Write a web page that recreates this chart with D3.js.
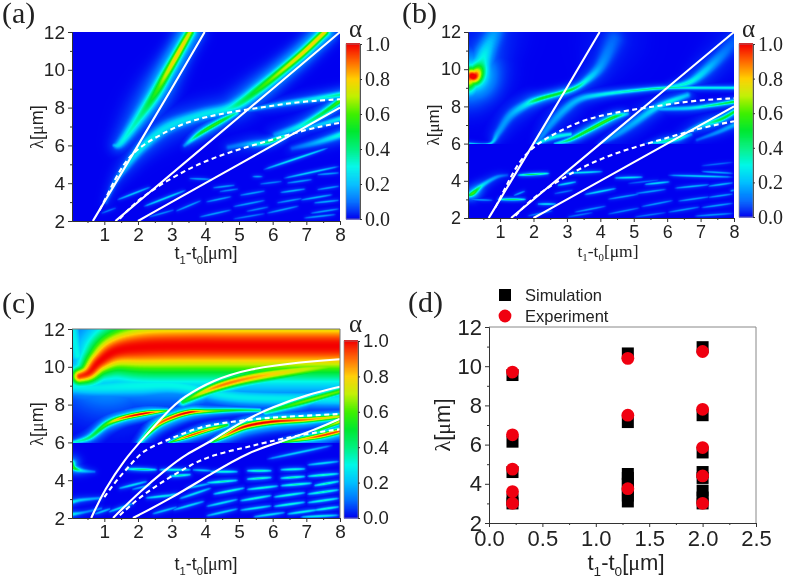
<!DOCTYPE html>
<html><head><meta charset="utf-8">
<script src="https://cdn.jsdelivr.net/npm/d3@7"></script>
<style>html,body{margin:0;padding:0;background:#fff}#wrap{position:relative;width:787px;height:585px;overflow:hidden;filter:blur(0.35px)}canvas,svg{position:absolute;left:0;top:0}</style>
</head><body><div id="wrap"></div>
<script>
// ---------- data ----------
const colorStops=[0,0.1,0.2,0.3,0.4,0.5,0.6,0.7,0.8,0.9,1];
const colorValues=["#0000f0","#0070ff","#00c0ff","#00f8e8","#00f080","#00e830","#40f000","#c0f000","#ffd000","#ff6800","#f40000"];
const xTicksHeat=[1,2,3,4,5,6,7,8];
const xMinorHeat=[0.5,1.5,2.5,3.5,4.5,5.5,6.5,7.5];
const yTicksHeat=[2,4,6,8,10,12];
const yMinorHeat=[3,5,7,9,11];
const barTicks=[0,0.2,0.4,0.6,0.8,1];
// white guides [t, lambda]
const line3a=[[0.66,2],[1,3],[2,6],[3,9],[3.98,12]];
const line15a=[[1.33,2],[2,3],[4,6],[6,9],[8,12]];
const line1a=[[2,2],[4,4],[6,6],[8,8]];
const dashUp=[[0.86,2.57],[1.16,3.63],[1.56,5.05],[2.05,5.93],[2.65,6.55],[3.34,7.17],[4.04,7.52],[4.83,7.79],[5.82,8.05],[6.81,8.32],[8,8.44]];
const dashLow=[[1.46,2.12],[2,3.15],[3,4.3],[4,5.2],[5,5.8],[6,6.3],[7,6.85],[8,7.2]];
const lineC1=[[0.61,2],[1,3.5],[1.65,5.2],[2.05,6],[2.85,7.6],[3.34,8.4],[4.23,9.3],[5.3,9.9],[6.8,10.25],[8,10.4]];
const lineC2=[[1.26,2],[2.05,3.4],[2.85,4.6],[3.44,5.4],[4.13,6],[5.02,7.05],[6.02,7.9],[7,8.5],[8,8.95]];
const lineC3=[[1.85,2],[3,3.05],[4.23,4.4],[5.3,5.5],[6.2,6],[7.3,6.7],[8,7.25]];
const dashC1=[[1,3.1],[1.36,4],[1.75,4.75],[2.15,5.6],[2.85,6.1],[3.83,6.85],[4.8,7.1],[5.8,7.3],[6.8,7.4],[8,7.5]];
const dashC2=[[1.46,2.15],[2.15,3.25],[2.85,4.05],[3.55,4.8],[4.23,5.35],[5.12,5.7],[5.8,6],[6.8,6.4],[8,6.7]];
// ridges: knots [t, lambda, alpha, linewidth]
const ridgesA=[
 [[1.3,6,.18,.07],[1.5,6.15,.28,.14],[2.05,7.5,.38,.2],[2.5,8.7,.55,.2],[2.85,9.8,.72,.17],[3.2,10.9,.8,.15],[3.55,12,.72,.15]],
 [[1.05,3,.08,.08],[1.3,4,.14,.1],[1.66,4.9,.2,.13],[2.15,5.95,.28,.16],[2.85,6.95,.26,.2],[3.84,7.6,.27,.18],[4.6,7.9,.3,.18],[5.03,8.25,.42,.18],[5.6,9,.55,.17],[6.2,9.85,.68,.15],[6.9,10.9,.78,.14],[7.55,12,.78,.14]],
 [[3.39,6,.12,.07],[3.84,6.63,.5,.09],[4.43,7.25,.55,.09],[4.93,7.72,.32,.08]],
 [[5.3,7.88,.14,.08],[6.3,8.2,.22,.09],[7.2,8.45,.27,.1],[8,8.68,.38,.1]],
 [[4.7,5.9,.1,.1],[5.2,6.05,.16,.11],[5.8,6.15,.4,.08],[6.2,6.4,.42,.08],[6.5,6.6,.15,.07]],
 [[6.1,6.55,.15,.12],[6.8,7,.3,.12],[7.4,7.6,.45,.11],[8,8.35,.6,.1]],
 [[6.6,6.75,.14,.08],[7.3,7.05,.2,.09],[8,7.4,.28,.09]],
 [[6.6,5.85,.08,.1],[7.3,6.15,.18,.11],[8,6.55,.32,.11]]
];
const streaksA=[[1.36,3.1,2.4,3.82,.2],[0.9,2.4,1.36,2.7,.1],[2.15,2.75,3.45,3.65,.24],[2.3,2.2,3.1,2.6,.12],[3.1,2.5,3.9,3.1,.15],[3.5,4.25,4.2,4.2,.15],[4.2,3.75,4.9,3.9,.15],[5,3.35,5.8,3.6,.15],[4,3,4.8,3.3,.15],[5.4,4.35,5.7,4.35,.15],[6.2,3.5,7,3.7,.18],[4.8,2.75,5.8,3.1,.15],[3.8,2.2,4.8,2.6,.15],[5.8,2.4,6.8,2.8,.15],[6.8,3.1,7.8,3.4,.18],[7.1,2.4,8,2.65,.15],[4.8,2.1,5.8,2.4,.11],[6.4,4,7.2,4.2,.15],[7.3,3.65,8,3.85,.15],[7.3,4.45,8,4.55,.15],[6.3,4.25,8,4.9,.22],[5.7,4.7,7.7,5.9,.26],[5.6,3.95,6.3,4.1,.12],[6.1,2.95,6.9,3.2,.14],[6.9,2.15,7.9,2.35,.15],[7.2,2.95,8,3.1,.17],[5.2,2.5,5.9,2.75,.12],[4.4,3.55,5,3.7,.12]];
const ridgesB=[
 [[0.05,9.1,.5,.28],[0.12,9.6,.98,.3],[0.25,9.65,1,.28],[0.42,10.2,.42,.3],[0.58,11,.26,.3],[0.85,12,.14,.32]],
 [[0.05,6,.22,.04],[0.7,6,.25,.04],[0.95,6.6,.16,.12],[1.3,7.5,.17,.16],[1.78,8.1,.28,.13],[2.18,8.4,.5,.09],[2.78,8.7,.5,.08],[3.2,8.95,.45,.08],[3.55,9.35,.3,.11],[4,10.15,.16,.2],[4.4,11.6,.09,.35]],
 [[2.1,6,.12,.07],[2.5,7,.15,.14],[2.95,7.85,.18,.15],[3.4,8.4,.2,.12],[4,8.63,.28,.08],[5,8.85,.35,.06],[6,9,.38,.05],[7,9,.3,.05],[8,9,.3,.05]],
 [[6,9,.28,.06],[6.6,9.25,.32,.1],[7,9.7,.25,.15],[7.6,10.7,.13,.22],[8,11.5,.08,.3]],
 [[2.1,6,.3,.05],[2.6,6.35,.3,.08],[3.1,6.5,.3,.06]],
 [[2.65,6,.2,.05],[3.08,6.2,.45,.07],[3.68,6.75,.55,.08],[4.38,7.4,.55,.08],[4.8,7.6,.2,.07]],
 [[4,6,.1,.06],[4.5,6.5,.15,.12],[5,7.1,.18,.14],[5.6,7.85,.25,.12],[6,8.2,.32,.1],[6.6,8.6,.2,.1]],
 [[5.3,7.85,.15,.07],[6.6,7.9,.25,.07],[7.3,8.05,.38,.06],[8,8.25,.5,.06]],
 [[5.4,5.98,.12,.05],[5.9,6.12,.35,.07],[6.3,6.25,.38,.07],[6.7,6.5,.15,.07]],
 [[6.3,6.4,.08,.08],[7,6.95,.22,.11],[7.6,7.3,.48,.08],[8,7.7,.52,.07]],
 [[6.9,6.2,.08,.06],[7.5,6.6,.14,.08],[8,7,.18,.09]]
];
const freeB=[[[0.05,3.2,.4,.07],[0.2,3.35,.6,.09],[0.5,3.8,.26,.08],[0.9,4.2,.14,.07],[1.2,4.3,.07,.06]]];
const streaksB=[[1.5,4.3,2.5,4.4,.45],[2.9,4.4,4.1,4.5,.26],[4.4,4.15,5.3,4.2,.26],[5.3,3.8,6.1,3.95,.24],[6,4.3,8,4.2,.22],[7,4.5,8,4.4,.16],[0.9,3,1.8,3,.42],[1.4,3.2,1.75,3.45,.15],[2.7,3.75,3.3,3.95,.24],[2.1,2.75,2.7,2.75,.25],[3.5,3.25,4.5,3.6,.24],[4.2,3,5.2,3.3,.15],[5,3.3,6,3.55,.15],[6.2,3.6,7.3,3.8,.18],[7.2,3.7,8,3.9,.18],[5.2,2.6,6.2,2.95,.14],[6.3,2.9,7.3,3.15,.15],[7.2,3.1,8,3.3,.15],[3.2,2.3,4.2,2.65,.14],[4.2,2.2,5.2,2.55,.12],[6,2.3,7,2.6,.14],[7,2.55,8,2.8,.15],[6.8,2.1,8,2.25,.14],[1.8,2.1,2.6,2.4,.12],[7,4.8,8,5,.09],[5,2.05,6,2.3,.1],[0.05,3,.8,2.95,.14],[2.6,3.3,3.2,3.5,.1],[3,2.05,3.8,2.3,.1],[4.8,3.85,5.8,4.05,.09],[7.9,3.45,8,3.5,.14]];
const ridgesC=[
 [[0.27,9.5,.95,.28],[0.55,9.7,.98,.35],[0.87,10.3,1,.5],[1.37,10.85,1,.75],[2.2,11.05,1,1],[3.5,11.1,1,1.05],[5,11.1,1,1.05],[8,11.1,1,1.05]],
 [[3.34,8.15,.5,.12],[4.23,8.87,.85,.16],[5.3,9.4,.85,.2],[6.8,9.83,.72,.24],[8,10.1,.62,.26]],
 [[0.07,6,.3,.06],[0.55,6.25,.42,.1],[1.06,6.95,.6,.11],[1.56,7.3,.9,.09],[2.25,7.55,1,.08],[2.85,7.67,.55,.06]],
 [[2.05,6,.35,.08],[2.55,6.9,.85,.1],[3.05,7.35,.95,.1],[3.55,7.6,1,.09],[4.05,7.65,.7,.08],[4.85,7.7,.5,.07],[5.6,7.7,.4,.06]],
 [[2.95,6,.45,.05],[3.44,6.3,.9,.07],[4.05,6.65,.85,.08],[4.65,6.92,.5,.07]],
 [[4.2,6,.45,.06],[4.63,6.4,.85,.09],[5.2,6.85,1,.11],[6,7.1,1,.11],[7,7.2,.88,.1],[8,7.37,.72,.09]],
 [[5.8,7.6,.4,.09],[6.8,8.1,.62,.12],[8,8.7,.62,.12]],
 [[6.3,6,.5,.06],[7.3,6.3,.92,.09],[8,6.6,.92,.1]],
 [[7.3,6.6,.45,.07],[8,7.1,.75,.09]],
 [[0.1,9,.3,.3],[0.8,8.9,.28,.3],[2,9,.3,.35],[3.2,9,.3,.3],[5,8.4,.28,.25],[8,8.3,.28,.25]],
 [[0.06,12,.28,.25],[0.2,10.6,.3,.25]]
];
const freeC=[
 [[0.05,4.9,.45,.1],[0.1,4.65,.55,.08],[0.35,4.5,.25,.07],[0.7,4.45,.1,.05]],
 [[0.05,2.85,.3,.06],[0.3,2.95,.22,.06],[0.86,3.05,.15,.05]],
 [[0.05,2.2,.3,.06],[0.4,2.3,.15,.05],[0.9,2.5,.1,.05]]
];
const streaksC=[[1.6,4.6,2.6,4.55,.4],[2.6,4.55,3.6,4.55,.32],[3.6,4.55,4.2,4.5,.2],[4.1,4.45,5,4.45,.32],[5.2,4.5,6,4.5,.35],[6.2,4.55,7,4.6,.32],[7,4.8,8,5,.24],[5.8,5.1,7.8,5.85,.22],[2.9,4.2,3.6,4.3,.35],[4,3.85,5,4,.35],[5.2,4.05,6,4.15,.35],[6.2,4.1,7,4.2,.35],[7,4.2,8,4.35,.35],[1.4,3.55,2.3,3.95,.25],[2.2,3.05,3.2,3.25,.27],[3.2,3,4.2,3.6,.25],[4.2,3.25,5.2,3.6,.32],[5.2,3.5,6.2,3.7,.32],[6.2,3.7,7.2,3.85,.35],[7.2,3.7,8,3.95,.35],[3,2.4,4,2.9,.24],[4,2.6,5,3,.25],[5,2.9,6,3.2,.32],[6,3.1,7,3.35,.32],[7,3.25,8,3.5,.35],[4,2.1,5,2.5,.24],[5,2.4,6,2.65,.27],[6,2.6,7,2.85,.32],[7,2.8,8,3.05,.32],[5.4,2.05,6.4,2.3,.25],[6.4,2.2,7.4,2.45,.3],[7.2,2.4,8,2.6,.32],[6.8,2.05,8,2.15,.28],[1.1,2.3,1.9,2.8,.24],[0.7,2.2,1.2,2.5,.2],[2.4,2.2,3.2,2.6,.2],[1.8,3.5,2.4,3.75,.16],[2.7,3.1,3.2,3.3,.24],[3.4,3.55,4.2,3.85,.2]];
// panel (d)
const simX=[0.22,0.22,0.22,0.22,0.22,1.3,1.3,1.3,1.3,1.3,1.3,1.3,1.3,2,2,2,2,2,2,2,2];
const simY=[3,3.2,4.6,6.15,9.55,3.1,3.4,3.7,4,4.3,4.5,7.15,10.65,3,3.3,3.65,4.3,4.6,5.6,7.5,10.97];
const expX=[0.22,0.22,0.22,0.22,0.22,1.3,1.3,1.3,2,2,2,2,2];
const expY=[3,3.6,4.75,6.5,9.7,3.75,7.5,10.4,3,4.4,5.85,7.8,10.75];
const xTicksD=[0,0.5,1,1.5,2,2.5];
const xMinorD=[0.25,0.75,1.25,1.75,2.25];
const legendNames=["Simulation","Experiment"];
// ---------- drawing ----------
const SANS="'Liberation Sans',Arial,sans-serif",SERIF="'Liberation Serif','Times New Roman',serif";
const wrap=d3.select("#wrap");
const colorScale=d3.scaleLinear().domain(colorStops).range(colorValues).clamp(true);
const lut=d3.range(1025).map(i=>d3.rgb(colorScale(i/1024)));
function densify(k){
 const o=[],n=k.length;
 for(let i=0;i<n-1;i++){
  const a=k[Math.max(i-1,0)],b=k[i],c=k[i+1],d=k[Math.min(i+2,n-1)];
  for(let s=0;s<8;s++){
   const t=s/8,t2=t*t,t3=t2*t;
   o.push(b.map((_,j)=>0.5*(2*b[j]+(c[j]-a[j])*t+(2*a[j]-5*b[j]+4*c[j]-d[j])*t2+(3*b[j]-a[j]-3*c[j]+d[j])*t3)));
  }
 }
 o.push(k[n-1]);return o;
}
function heat(x,y,clipped,free,streaks,sw){
 const X0=Math.round(x.range()[0]),X1=Math.round(x.range()[1]),Y0=Math.round(y.range()[1]),Y1=Math.round(y.range()[0]);
 const W=X1-X0,H=Y1-Y0,F=new Float32Array(W*H).fill(0.0);
 const pxW=Math.abs(y(0)-y(1));
 function seg(a,b,floor){
  const ax=x(a[0])-X0,ay=y(a[1])-Y0,bx=x(b[0])-X0,by=y(b[1])-Y0;
  const wa=Math.max(a[3],.02)*pxW,wb=Math.max(b[3],.02)*pxW,m=Math.min(Math.max(wa,wb)*9,110);
  const xa=Math.max(0,Math.floor(Math.min(ax,bx)-m)),xb=Math.min(W-1,Math.ceil(Math.max(ax,bx)+m));
  const ya=Math.max(0,Math.floor(Math.min(ay,by)-m)),yb=Math.min(floor?Math.floor(y(floor)-Y0):H-1,H-1,Math.ceil(Math.max(ay,by)+m));
  const dx=bx-ax,dy=by-ay,L=dx*dx+dy*dy||1;
  for(let j=ya;j<=yb;j++)for(let i=xa;i<=xb;i++){
   let t=((i+.5-ax)*dx+(j+.5-ay)*dy)/L;t=t<0?0:t>1?1:t;
   const ex=i+.5-ax-t*dx,ey=j+.5-ay-t*dy,d2=ex*ex+ey*ey,w=wa+(wb-wa)*t,v=a[2]+(b[2]-a[2])*t;
   const tw=Math.min(3*w,35),val=v*(.75*Math.exp(-d2/(2*w*w))+.25*Math.exp(-d2/(2*tw*tw)));
   const p=j*W+i;if(val>F[p])F[p]=val;
  }
 }
 const run=(r,floor)=>{const d=densify(r);for(let i=0;i<d.length-1;i++)seg(d[i],d[i+1],floor);};
 clipped.forEach(r=>run(r,6));free.forEach(r=>run(r,0));
 streaks.forEach(s=>{
  const n=10;
  for(let i=0;i<n;i++){
   const t0=i/n,t1=(i+1)/n,f=t=>[s[0]+(s[2]-s[0])*t,s[1]+(s[3]-s[1])*t,s[4]*Math.sqrt(Math.sin(Math.PI*t)),sw];
   seg(f(t0),f(t1),0);
  }
 });
 const cv=wrap.append("canvas").attr("width",W).attr("height",H).style("left",X0+"px").style("top",Y0+"px").node();
 const ctx=cv.getContext("2d"),im=ctx.createImageData(W,H);
 for(let p=0;p<W*H;p++){const c=lut[Math.min(1024,Math.round(F[p]*1024))];im.data[p*4]=c.r;im.data[p*4+1]=c.g;im.data[p*4+2]=c.b;im.data[p*4+3]=255;}
 ctx.putImageData(im,0,0);
}
const svg=wrap.append("svg").attr("width",787).attr("height",585).style("z-index",2);
function axes(x,y,xt,xm,yt,ym,fs,fmtX,fmtY,font){
 const h=y.range()[0],l=x.range()[0];
 const mk=(ax,tr)=>{const g=svg.append("g").attr("transform",tr).call(ax);g.selectAll("path,line").attr("stroke","#333").attr("stroke-width",1);g.selectAll("text").attr("font-family",font||SANS).attr("font-size",fs).attr("fill","#222");return g;};
 mk(d3.axisBottom(x).tickValues(xm).tickSize(2).tickFormat("").tickSizeOuter(0),`translate(0,${h})`);
 mk(d3.axisBottom(x).tickValues(xt).tickSize(4).tickFormat(fmtX).tickPadding(3).tickSizeOuter(0),`translate(0,${h})`);
 mk(d3.axisLeft(y).tickValues(ym).tickSize(2).tickFormat("").tickSizeOuter(0),`translate(${l},0)`);
 mk(d3.axisLeft(y).tickValues(yt).tickSize(4).tickFormat(fmtY).tickPadding(3).tickSizeOuter(0),`translate(${l},0)`);
}
function guides(x,y,solid,dashed){
 const ln=d3.line().x(d=>x(d[0])).y(d=>y(d[1])).curve(d3.curveBasis);
 const g=svg.append("g");
 solid.forEach(s=>g.append("path").attr("d",ln(s)).attr("fill","none").attr("stroke","#fff").attr("stroke-width",2.1));
 dashed.forEach(s=>g.append("path").attr("d",ln(s)).attr("fill","none").attr("stroke","#fff").attr("stroke-width",2.1).attr("stroke-dasharray","5,3.5"));
}
function colorbar(x0,x1,y0,y1,font,fs,dx){
 const s=d3.scaleLinear().domain([0,1]).range([y1,y0]);
 const g=svg.append("g");
 g.selectAll("rect").data(d3.range(0,1.0001,1/176)).join("rect").attr("x",x0).attr("width",x1-x0).attr("y",d=>s(d)-1).attr("height",1.6).attr("fill",d=>colorScale(d));
 svg.append("rect").attr("x",x0).attr("y",y0).attr("width",x1-x0).attr("height",y1-y0).attr("fill","none").attr("stroke","#888").attr("stroke-width",.7);
 const a=svg.append("g").attr("transform",`translate(${x1},0)`).call(d3.axisRight(s).tickValues(barTicks).tickSize(2).tickPadding(dx).tickFormat(d3.format(".1f")));
 a.select("path").attr("stroke","#555");a.selectAll("line").attr("stroke","#333");
 a.selectAll("text").attr("font-family",font).attr("font-size",fs).attr("fill","#222");
}
function txt(s,x,y,fam,fs,anchor,rot){
 const t=svg.append("text").attr("x",x).attr("y",y).attr("font-family",fam).attr("font-size",fs).attr("fill","#222").attr("text-anchor",anchor||"start");
 if(rot)t.attr("transform",`rotate(-90 ${x} ${y})`);
 t.text(s);return t;
}
function tLabel(x,y,fam,fs){
 const t=svg.append("text").attr("x",x).attr("y",y).attr("text-anchor","middle").attr("font-family",fam).attr("font-size",fs).attr("fill","#222");
 t.append("tspan").text("t");t.append("tspan").text("1").attr("font-size",fs*.62).attr("dy",fs*.25);
 t.append("tspan").text("-t").attr("dy",-fs*.25);t.append("tspan").text("0").attr("font-size",fs*.62).attr("dy",fs*.25);
 t.append("tspan").text("[").attr("dy",-fs*.25);t.append("tspan").text("μ").attr("font-family",SERIF);t.append("tspan").text("m]");
}
function lamLabel(x,y,fs){
 const t=svg.append("text").attr("transform",`translate(${x},${y}) rotate(-90)`).attr("text-anchor","middle").attr("font-family",SANS).attr("font-size",fs).attr("fill","#222");
 t.append("tspan").text("λ").attr("font-family",SERIF);t.append("tspan").text("[");t.append("tspan").text("μ").attr("font-family",SERIF);t.append("tspan").text("m]");
}
const fmtI=d3.format("d");
// (a)
{const x=d3.scaleLinear().domain([.04,8]).range([72,340]),y=d3.scaleLinear().domain([2,12]).range([221,32]);
 heat(x,y,[],ridgesA,streaksA,.035);guides(x,y,[line3a,line15a,line1a],[dashUp,dashLow]);
 axes(x,y,xTicksHeat,xMinorHeat,yTicksHeat,yMinorHeat,19,fmtI,fmtI);
 colorbar(346,360,44,219,SERIF,20,3);
 txt("(a)",2,23,SERIF,30);txt("α",349,37,SERIF,25);tLabel(206,259,SANS,18);lamLabel(43,127,18);}
// (b)
{const x=d3.scaleLinear().domain([.04,8]).range([468,734]),y=d3.scaleLinear().domain([2,12]).range([218,32]);
 heat(x,y,ridgesB,freeB,streaksB,.035);guides(x,y,[line3a,line15a,line1a],[dashUp,dashLow]);
 axes(x,y,xTicksHeat,xMinorHeat,yTicksHeat,yMinorHeat,18,fmtI,fmtI);
 colorbar(739,753,44,217,SERIF,20,3);
 txt("(b)",402,23,SERIF,30);txt("α",742,37,SERIF,25);tLabel(608,257,SERIF,17.5);lamLabel(439,125,17);}
// (c)
{const x=d3.scaleLinear().domain([.04,8]).range([72,340]),y=d3.scaleLinear().domain([2,12]).range([518,329]);
 heat(x,y,ridgesC,freeC,streaksC,.04);guides(x,y,[lineC1,lineC2,lineC3],[dashC1,dashC2]);
 axes(x,y,xTicksHeat,xMinorHeat,yTicksHeat,yMinorHeat,19,fmtI,fmtI);
 svg.append("path").attr("d",`M72,329H340V518`).attr("fill","none").attr("stroke","#777");
 colorbar(344,358,341,518,SANS,18.5,3);
 txt("(c)",2,313,SERIF,30);txt("α",349,332,SERIF,25);tLabel(206,570,SANS,18);lamLabel(43,424,18);}
// (d)
{const x=d3.scaleLinear().domain([0,2.5]).range([489,756]),y=d3.scaleLinear().domain([2,12]).range([523,327]);
 svg.append("path").attr("d",`M489,327H756V523`).attr("fill","none").attr("stroke","#888");
 axes(x,y,xTicksD,xMinorD,yTicksHeat,yMinorHeat,22,d3.format(".1f"),fmtI);
 svg.append("g").selectAll("rect").data(simX).join("rect").attr("x",(d,i)=>x(d)-6).attr("y",(d,i)=>y(simY[i])-6).attr("width",12).attr("height",12).attr("fill","#000");
 svg.append("g").selectAll("circle").data(expX).join("circle").attr("cx",d=>x(d)).attr("cy",(d,i)=>y(expY[i])).attr("r",6.4).attr("fill","#f00010");
 svg.append("rect").attr("x",499).attr("y",289).attr("width",12).attr("height",12).attr("fill","#000");
 svg.append("circle").attr("cx",505).attr("cy",316).attr("r",6.4).attr("fill","#f00010");
 txt(legendNames[0],525,301,SANS,16.5);txt(legendNames[1],525,322,SANS,16.5);
 txt("(d)",408,312,SERIF,30);tLabel(626,570,SANS,22);lamLabel(450,425,22);}
</script></body></html>
